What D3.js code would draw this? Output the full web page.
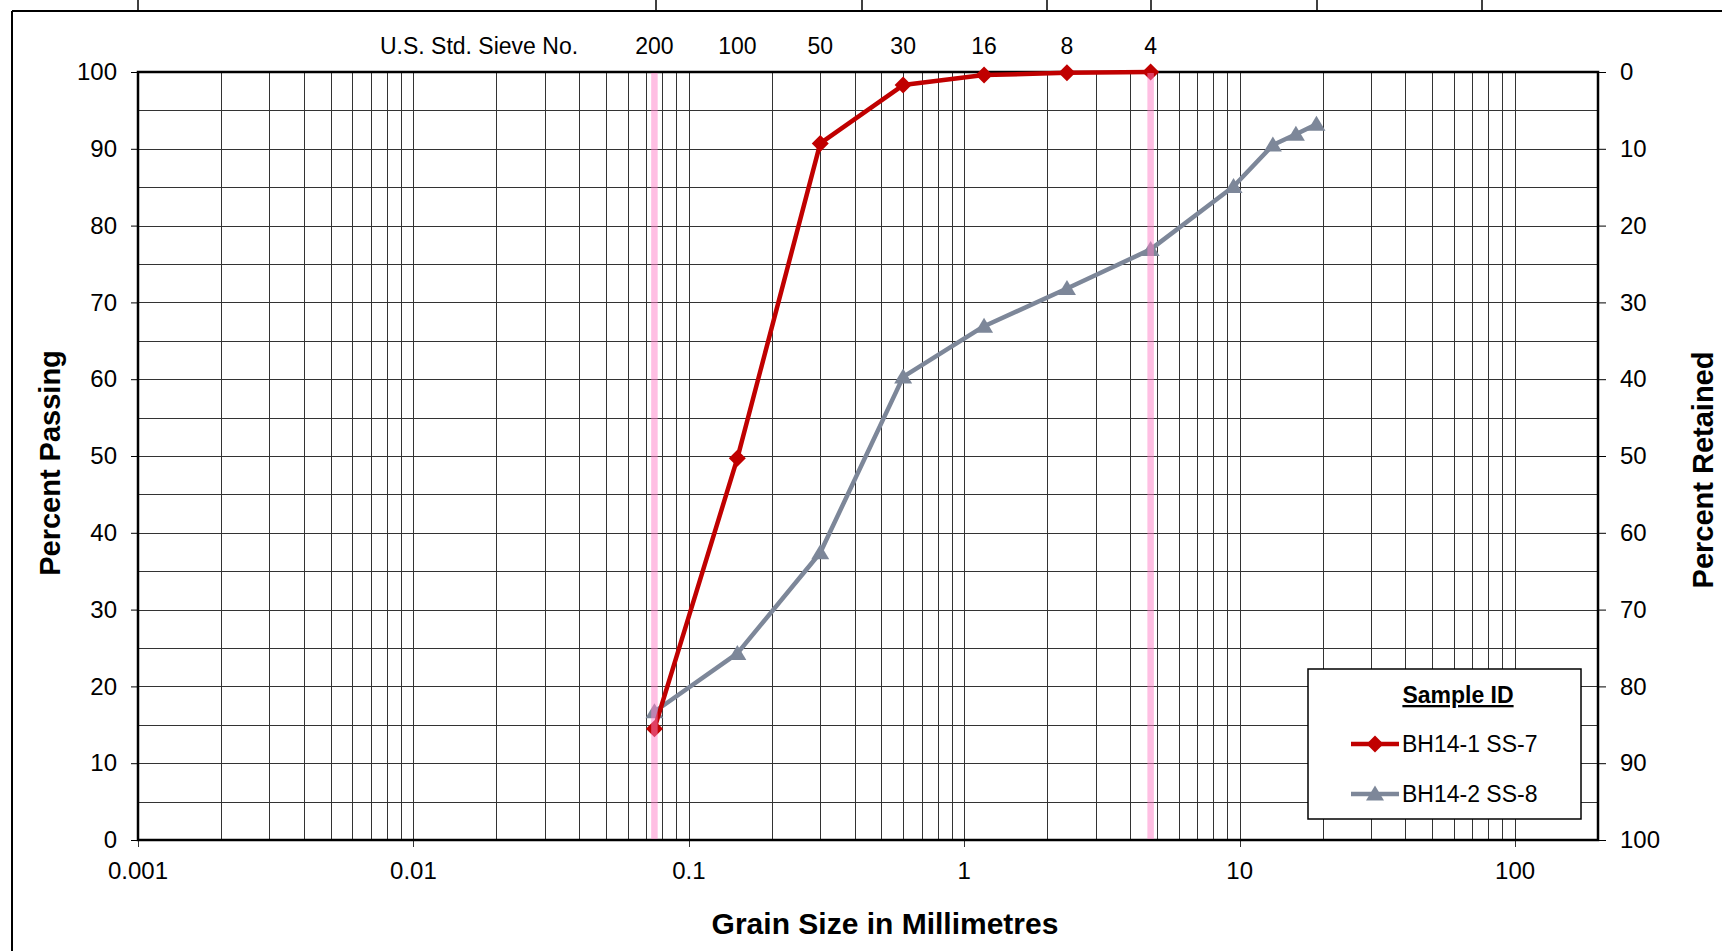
<!DOCTYPE html>
<html lang="en">
<head>
<meta charset="utf-8">
<title>Grain Size Distribution</title>
<script src="https://d3js.org/d3.v7.min.js"></script>
<style>
  body { margin: 0; background: #fff; }
  svg { display: block; font-family: "Liberation Sans", Arial, sans-serif; }
</style>
</head>
<body>
<div id="chart"></div>
<script>
// sieve numbers along the top and their openings (mm)
var sieveNos = ["200", "100", "50", "30", "16", "8", "4"];
var sieveSizes = [0.075, 0.15, 0.3, 0.6, 1.18, 2.36, 4.75];

// BH14-1 SS-7
var sizes1 = [0.075, 0.15, 0.3, 0.6, 1.18, 2.36, 4.75];
var pass1 = [14.5, 49.7, 90.7, 98.3, 99.6, 99.9, 100];

// BH14-2 SS-8
var sizes2 = [0.075, 0.15, 0.3, 0.6, 1.18, 2.36, 4.75, 9.5, 13.2, 16, 19];
var pass2 = [16.7, 24.3, 37.4, 60.3, 66.9, 71.8, 76.9, 85.1, 90.5, 91.9, 93.2];

var seriesNames = ["BH14-1 SS-7", "BH14-2 SS-8"];

var xTicks = [0.001, 0.01, 0.1, 1, 10, 100];
var yTicks = [0, 10, 20, 30, 40, 50, 60, 70, 80, 90, 100];
var yGrid = [5, 10, 15, 20, 25, 30, 35, 40, 45, 50, 55, 60, 65, 70, 75, 80, 85, 90, 95];
var pinkSizes = [0.075, 4.75];

var W = 1722, H = 951;
var margin = {top: 72, right: 124, bottom: 111, left: 138};
var width = W - margin.left - margin.right,
    height = H - margin.top - margin.bottom;

var x = d3.scaleLog().domain([0.001, 200]).range([0, width]);
var y = d3.scaleLinear().domain([0, 100]).range([height, 0]);
var yR = d3.scaleLinear().domain([0, 100]).range([0, height]);

var svg = d3.select("#chart").append("svg")
    .attr("width", W)
    .attr("height", H);

// outer frame and table lines above it
var frame = svg.append("g");
frame.append("line").attr("x1", 12).attr("x2", W).attr("y1", 11).attr("y2", 11)
    .attr("stroke", "#000").attr("stroke-width", 2);
frame.append("line").attr("x1", 12).attr("x2", 12).attr("y1", 11).attr("y2", H)
    .attr("stroke", "#000").attr("stroke-width", 2);
[138, 656, 862, 1047, 1151, 1317, 1482].forEach(function(px) {
    frame.append("line").attr("x1", px).attr("x2", px).attr("y1", 0).attr("y2", 11)
        .attr("stroke", "#000").attr("stroke-width", 1.5);
});

var g = svg.append("g")
    .attr("transform", "translate(" + margin.left + "," + margin.top + ")");

// vertical grid lines at 1..9 of each decade
var vGrid = [];
[0.001, 0.01, 0.1, 1, 10].forEach(function(d) {
    for (var k = 1; k <= 9; k++) vGrid.push(d * k);
});
vGrid.push(100);

g.selectAll(".vgrid").data(vGrid).enter().append("line")
    .attr("class", "vgrid")
    .attr("x1", function(d) { return Math.round(x(d)) + 0.5; })
    .attr("x2", function(d) { return Math.round(x(d)) + 0.5; })
    .attr("y1", 0)
    .attr("y2", function(d) { return xTicks.indexOf(d) >= 0 ? height + 7 : height; })
    .attr("stroke", "#333")
    .attr("stroke-width", 1);

g.selectAll(".hgrid").data(yGrid).enter().append("line")
    .attr("class", "hgrid")
    .attr("x1", 0).attr("x2", width)
    .attr("y1", function(d) { return Math.round(y(d)) + 0.5; })
    .attr("y2", function(d) { return Math.round(y(d)) + 0.5; })
    .attr("stroke", "#333")
    .attr("stroke-width", 1);

// left axis
var yAxis = d3.axisLeft(y).tickValues(yTicks).tickSize(7).tickPadding(14);
var gy = g.append("g").call(yAxis);
gy.select(".domain").remove();
gy.selectAll("text").style("font-size", "24px").attr("fill", "#000");

// right axis (percent retained)
var yAxisR = d3.axisRight(yR).tickValues(yTicks).tickSize(8).tickPadding(14);
var gyr = g.append("g").attr("transform", "translate(" + width + ",0)").call(yAxisR);
gyr.select(".domain").remove();
gyr.selectAll("text").style("font-size", "24px").attr("fill", "#000");

// bottom axis labels
var gx = g.append("g").attr("transform", "translate(0," + height + ")");
gx.selectAll("text").data(xTicks).enter().append("text")
    .attr("x", function(d) { return x(d); })
    .attr("y", 39)
    .attr("text-anchor", "middle")
    .style("font-size", "24px")
    .text(function(d) { return d3.format("~g")(d); });

// sieve numbers on top
g.selectAll(".sieve").data(sieveSizes).enter().append("text")
    .attr("class", "sieve")
    .attr("x", function(d) { return x(d); })
    .attr("y", -18)
    .attr("text-anchor", "middle")
    .style("font-size", "23px")
    .text(function(d, i) { return sieveNos[i]; });
g.append("text")
    .attr("x", 341).attr("y", -18)
    .attr("text-anchor", "middle")
    .style("font-size", "23px")
    .text("U.S. Std. Sieve No.");

// plot border
g.append("rect")
    .attr("x", 0).attr("y", 0)
    .attr("width", width).attr("height", height)
    .attr("fill", "none")
    .attr("stroke", "#000")
    .attr("stroke-width", 2.5);

// series
var diamond = "M0,-8.5L8.5,0L0,8.5L-8.5,0Z";
var triangle = "M0,-8.5L9,6.5L-9,6.5Z";
var series = [
    {name: seriesNames[0], sizes: sizes1, pass: pass1, color: "#c00000", marker: diamond},
    {name: seriesNames[1], sizes: sizes2, pass: pass2, color: "#7d8799", marker: triangle}
];

var line = d3.line()
    .x(function(d) { return x(d[0]); })
    .y(function(d) { return y(d[1]); });

series.slice().reverse().forEach(function(s) {
    var pts = s.sizes.map(function(d, i) { return [d, s.pass[i]]; });
    g.append("path")
        .attr("d", line(pts))
        .attr("fill", "none")
        .attr("stroke", s.color)
        .attr("stroke-width", 4.5)
        .attr("stroke-linejoin", "round");
    g.selectAll(null).data(pts).enter().append("path")
        .attr("d", s.marker)
        .attr("transform", function(d) { return "translate(" + x(d[0]) + "," + y(d[1]) + ")"; })
        .attr("fill", s.color);
});

// pink reference lines (No. 200 and No. 4 sieves)
g.selectAll(".pink").data(pinkSizes).enter().append("line")
    .attr("class", "pink")
    .attr("x1", function(d) { return x(d); })
    .attr("x2", function(d) { return x(d); })
    .attr("y1", 1).attr("y2", height - 1)
    .attr("stroke", "#ff80c8")
    .attr("stroke-opacity", 0.5)
    .attr("stroke-width", 6.5);

// legend
var lg = g.append("g").attr("transform", "translate(" + (1308 - margin.left) + "," + (669 - margin.top) + ")");
lg.append("rect")
    .attr("width", 273).attr("height", 150)
    .attr("fill", "#fff")
    .attr("stroke", "#000")
    .attr("stroke-width", 1.5);
lg.append("text")
    .attr("x", 150).attr("y", 34)
    .attr("text-anchor", "middle")
    .style("font-size", "23px")
    .style("font-weight", "bold")
    .style("text-decoration", "underline")
    .text("Sample ID");
series.forEach(function(s, i) {
    var ly = 75 + i * 50;
    lg.append("line")
        .attr("x1", 43).attr("x2", 91)
        .attr("y1", ly).attr("y2", ly)
        .attr("stroke", s.color)
        .attr("stroke-width", 4.5);
    lg.append("path")
        .attr("d", s.marker)
        .attr("transform", "translate(67," + ly + ")")
        .attr("fill", s.color);
    lg.append("text")
        .attr("x", 94).attr("y", ly + 8)
        .style("font-size", "23px")
        .text(s.name);
});

// axis titles
svg.append("text")
    .attr("x", 885).attr("y", 934)
    .attr("text-anchor", "middle")
    .style("font-size", "30px")
    .style("font-weight", "bold")
    .text("Grain Size in Millimetres");

svg.append("text")
    .attr("transform", "translate(60,463) rotate(-90)")
    .attr("text-anchor", "middle")
    .style("font-size", "29px")
    .style("font-weight", "bold")
    .text("Percent Passing");

svg.append("text")
    .attr("transform", "translate(1713,470) rotate(-90)")
    .attr("text-anchor", "middle")
    .style("font-size", "29px")
    .style("font-weight", "bold")
    .text("Percent Retained");
</script>
</body>
</html>
